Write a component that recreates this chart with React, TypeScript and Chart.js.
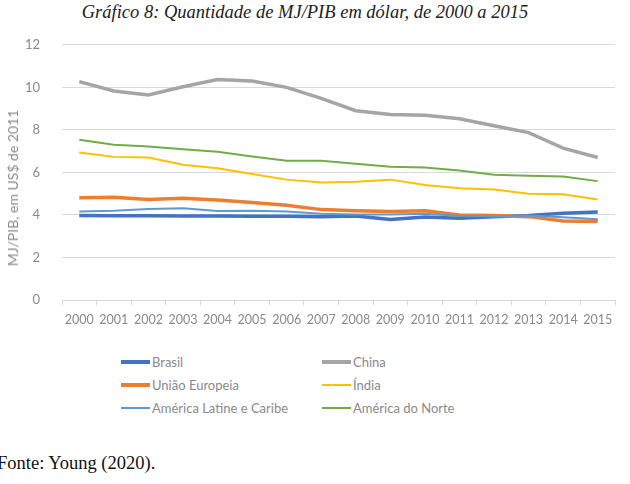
import React, { useEffect, useRef } from "react";
import { Chart, registerables } from "chart.js";

Chart.register(...registerables);

const years = ["2000","2001","2002","2003","2004","2005","2006","2007","2008","2009","2010","2011","2012","2013","2014","2015"];
const brasil = [3.97,3.96,3.96,3.95,3.95,3.94,3.94,3.92,3.95,3.78,3.9,3.84,3.92,3.97,4.08,4.14];
const china = [10.27,9.83,9.64,10.03,10.37,10.3,10.0,9.48,8.9,8.72,8.69,8.52,8.19,7.87,7.14,6.7];
const uniaoEuropeia = [4.81,4.83,4.73,4.78,4.7,4.59,4.45,4.25,4.2,4.16,4.2,4.0,3.97,3.92,3.72,3.69];
const india = [6.94,6.73,6.7,6.36,6.2,5.92,5.66,5.52,5.56,5.66,5.41,5.25,5.2,5.0,4.97,4.73];
const americaLatina = [4.16,4.2,4.28,4.31,4.19,4.2,4.16,4.05,4.02,4.02,4.05,3.95,3.94,3.97,3.89,3.8];
const americaNorte = [7.53,7.3,7.22,7.09,6.97,6.75,6.55,6.55,6.41,6.27,6.23,6.09,5.89,5.84,5.81,5.59];

const seriesNames = ["Brasil","China","União Europeia","Índia","América Latine e Caribe","América do Norte"];
const seriesColors = ["#4472C4","#A5A5A5","#ED7D31","#FFC000","#5B9BD5","#70AD47"];
const seriesWidths = [3.5,3.5,3.5,2,2,2];
const seriesData = [brasil, china, uniaoEuropeia, india, americaLatina, americaNorte];

const title = "Gráfico 8: Quantidade de MJ/PIB em dólar, de 2000 a 2015";
const yTitle = "MJ/PIB, em US$ de 2011";
const footer = "Fonte: Young (2020).";

const TEXT = "#8a8a8a";
const FONT = "Lato, 'Open Sans', sans-serif";

export default function App() {
  const ref = useRef<HTMLCanvasElement | null>(null);
  useEffect(() => {
    if (!ref.current) return;
    const chart = new Chart(ref.current, {
      type: "line",
      data: {
        labels: years,
        datasets: seriesNames.map((n, i) => ({
          label: n,
          data: seriesData[i],
          borderColor: seriesColors[i],
          backgroundColor: seriesColors[i],
          borderWidth: seriesWidths[i],
          pointRadius: 0,
          tension: 0,
          order: 6 - i,
        })),
      },
      options: {
        responsive: false,
        animation: false,
        layout: { padding: { left: 0, right: 15, top: 0, bottom: 0 } },
        plugins: { legend: { display: false }, tooltip: { enabled: false }, title: { display: false } },
        scales: {
          x: {
            offset: true,
            grid: { display: true, drawOnChartArea: false, drawTicks: true, tickLength: 5, color: "#d9d9d9", offset: true },
            border: { display: true, color: "#d9d9d9" },
            ticks: { color: TEXT, font: { family: FONT, size: 12.5 }, padding: 7, maxRotation: 0, autoSkip: false },
            afterFit: (s: any) => { s.height = 40; },
          },
          y: {
            min: 0,
            max: 12,
            ticks: { stepSize: 2, color: TEXT, font: { family: FONT, size: 13 }, padding: 22 },
            grid: { color: "#d9d9d9", drawTicks: false },
            border: { display: false },
            title: { display: false, text: yTitle },
            afterFit: (s: any) => { s.width = 62; },
          },
        },
      },
    });
    return () => chart.destroy();
  }, []);

  return (
    <div style={{ position: "absolute", left: 0, top: 0, width: 630, height: 484, background: "#fff", overflow: "hidden" }}>
      <div style={{ position: "absolute", left: 0, top: 2, width: 610, textAlign: "center", fontFamily: "'Liberation Serif', serif", fontStyle: "italic", fontSize: 18.5, color: "#222" }}>
        {title}
      </div>
      <canvas ref={ref} width={630} height={325} style={{ position: "absolute", left: 0, top: 15, width: 630, height: 325 }} />
      <div style={{ position: "absolute", left: 13, top: 188, transform: "translate(-50%, -50%) rotate(-90deg)", whiteSpace: "nowrap", fontFamily: FONT, fontSize: 14, color: TEXT, lineHeight: "16px" }}>
        {yTitle}
      </div>
      <div style={{ position: "absolute", left: 121, top: 352, display: "grid", gridTemplateColumns: "201px 220px", rowGap: 4, fontFamily: FONT, fontSize: 13, color: TEXT }}>
        {seriesNames.map((n, i) => (
          <div key={n} style={{ display: "flex", alignItems: "center", height: 19 }}>
            <span style={{ display: "inline-block", width: 29, height: seriesWidths[i] > 3 ? 4 : 2, background: seriesColors[i], marginRight: 2 }} />
            <span>{n}</span>
          </div>
        ))}
      </div>
      <div style={{ position: "absolute", left: -3, top: 453, fontFamily: "'Liberation Serif', serif", fontSize: 18.5, color: "#111" }}>
        {footer}
      </div>
    </div>
  );
}
